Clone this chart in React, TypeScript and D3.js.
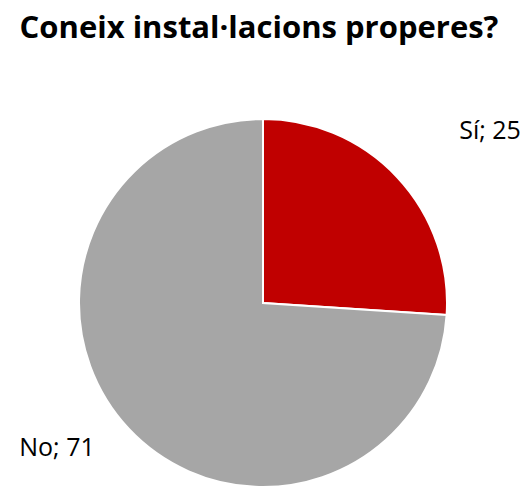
import React from 'react';
import { arc, pie } from 'd3';

const categories = ['Sí', 'No'];
const values = [25, 71];
const colors = ['#C00000', '#A6A6A6'];
const title = 'Coneix instal·lacions properes?';

const width = 529;
const height = 488;
const cx = 263;
const cy = 303;
const radius = 184;

export default function App() {
  const data = categories.map((c, i) => ({ name: c, value: values[i] }));
  const slices = pie<any>().value((d) => d.value).sort(null)(data);
  const arcGen = arc<any>().innerRadius(0).outerRadius(radius);
  const labelArc = arc<any>().innerRadius(radius * 1.4).outerRadius(radius * 1.4);
  // small nudges so labels sit where the original ones are
  const nudge = [[39, 5], [-18, -30]];

  return (
    <svg
      width={width}
      height={height}
      style={{ position: 'absolute', left: 0, top: 0, background: '#fff' }}
      fontFamily="'Open Sans', sans-serif"
    >
      <text x={259} y={38} textAnchor="middle" fontSize={31} fontWeight="bold" fill="#000">
        {title}
      </text>
      <g transform={`translate(${cx},${cy})`}>
        {slices.map((s, i) => (
          <path key={i} d={arcGen(s) as string} fill={colors[i]} stroke="#fff" strokeWidth={2} />
        ))}
        {slices.map((s, i) => {
          const [x, y] = labelArc.centroid(s);
          return (
            <text
              key={'l' + i}
              x={x + nudge[i][0]}
              y={y + nudge[i][1]}
              textAnchor="middle"
              dominantBaseline="middle"
              fontSize={25}
              fill="#000"
            >
              {`${s.data.name}; ${s.data.value}`}
            </text>
          );
        })}
      </g>
    </svg>
  );
}
